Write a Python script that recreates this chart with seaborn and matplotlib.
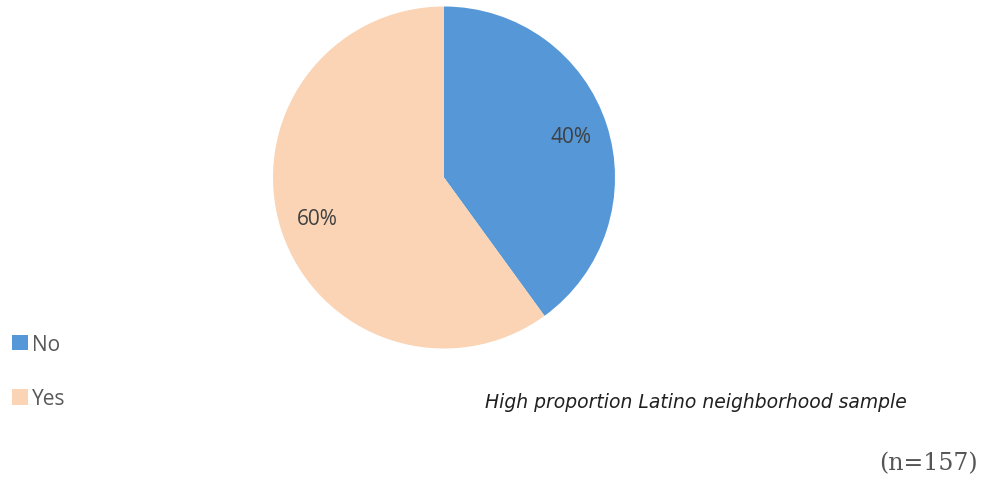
import matplotlib.pyplot as plt
import seaborn as sns

# Data
labels = ['No', 'Yes']
shares = [40, 60]
colors = ['#5597d7', '#fad4b4']
caption = 'High proportion Latino neighborhood sample'
n_note = '(n=157)'

sns.set_theme(style='white')
plt.rcParams['font.family'] = ['Open Sans', 'DejaVu Sans']

fig = plt.figure(figsize=(9.84, 4.81), dpi=100)
ax = fig.add_axes([273 / 984, (481 - 350) / 481, 342 / 984, 343 / 481])

wedges, texts, autotexts = ax.pie(
    shares, colors=colors, startangle=90, counterclock=False,
    autopct='%d%%', pctdistance=0.78, radius=1,
    wedgeprops=dict(linewidth=0),
    textprops=dict(color='#404040', fontsize=15),
)
ax.set_xlim(-1.0, 1.0)
ax.set_ylim(-1.0, 1.0)
ax.set_aspect('equal')
ax.axis('off')

fig.legend(wedges, labels, loc='upper left', bbox_to_anchor=(12 / 984, 1 - 335 / 481),
           frameon=False, fontsize=15, labelcolor='#595959',
           handlelength=0.75, handleheight=0.75, handletextpad=0.2,
           labelspacing=1.6, borderaxespad=0.0, borderpad=0.0)

fig.text(485 / 984, 1 - 402 / 481, caption, fontsize=13.5, style='italic',
         family='DejaVu Sans', color='#202020', va='center', ha='left')
fig.text(978 / 984, 1 - 464 / 481, n_note, fontsize=17, family='DejaVu Serif',
         color='#555555', va='center', ha='right')

fig.savefig('out.png', dpi=100)
